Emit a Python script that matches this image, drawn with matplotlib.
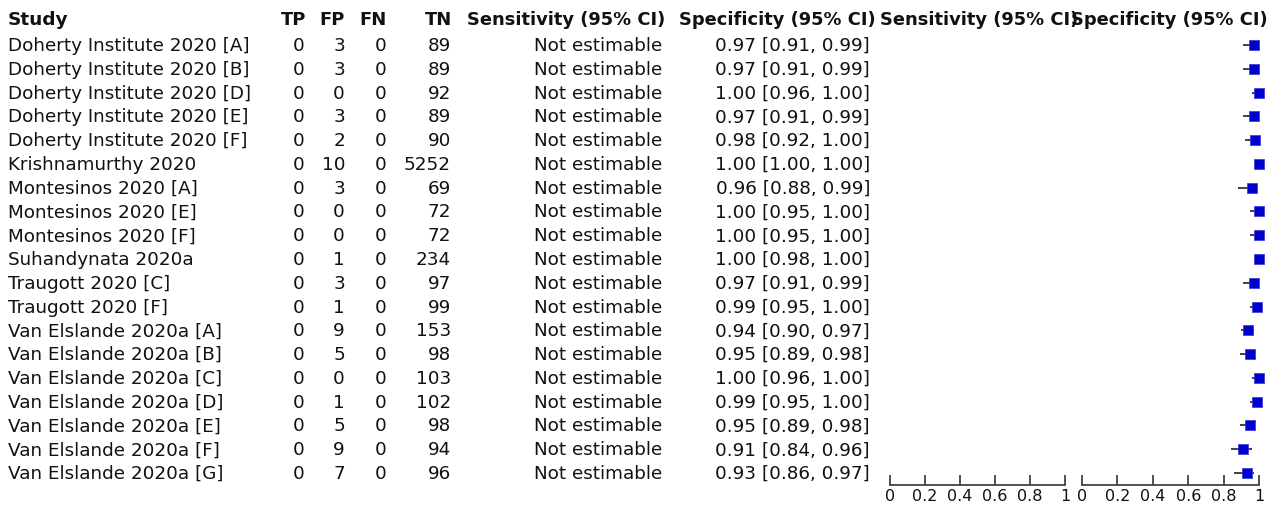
import matplotlib
matplotlib.use("Agg")
import matplotlib.pyplot as plt

plt.rcParams["font.family"] = ["DejaVu Sans"]

studies = ["Doherty Institute 2020 [A]", "Doherty Institute 2020 [B]", "Doherty Institute 2020 [D]",
           "Doherty Institute 2020 [E]", "Doherty Institute 2020 [F]", "Krishnamurthy 2020",
           "Montesinos 2020 [A]", "Montesinos 2020 [E]", "Montesinos 2020 [F]", "Suhandynata 2020a",
           "Traugott 2020 [C]", "Traugott 2020 [F]", "Van Elslande 2020a [A]", "Van Elslande 2020a [B]",
           "Van Elslande 2020a [C]", "Van Elslande 2020a [D]", "Van Elslande 2020a [E]",
           "Van Elslande 2020a [F]", "Van Elslande 2020a [G]"]
tp = [0] * 19
fp = [3, 3, 0, 3, 2, 10, 3, 0, 0, 1, 3, 1, 9, 5, 0, 1, 5, 9, 7]
fn = [0] * 19
tn = [89, 89, 92, 89, 90, 5252, 69, 72, 72, 234, 97, 99, 153, 98, 103, 102, 98, 94, 96]
spec = [0.97, 0.97, 1.00, 0.97, 0.98, 1.00, 0.96, 1.00, 1.00, 1.00, 0.97, 0.99, 0.94, 0.95, 1.00, 0.99, 0.95, 0.91, 0.93]
spec_lo = [0.91, 0.91, 0.96, 0.91, 0.92, 1.00, 0.88, 0.95, 0.95, 0.98, 0.91, 0.95, 0.90, 0.89, 0.96, 0.95, 0.89, 0.84, 0.86]
spec_hi = [0.99, 0.99, 1.00, 0.99, 1.00, 1.00, 0.99, 1.00, 1.00, 1.00, 0.99, 1.00, 0.97, 0.98, 1.00, 1.00, 0.98, 0.96, 0.97]
sens_text = ["Not estimable"] * 19
headers = ["Study", "TP", "FP", "FN", "TN", "Sensitivity (95% CI)", "Specificity (95% CI)",
           "Sensitivity (95% CI)", "Specificity (95% CI)"]
tick_vals = [0, 0.2, 0.4, 0.6, 0.8, 1]
tick_labels = ["0", "0.2", "0.4", "0.6", "0.8", "1"]

W, H = 1280, 506
fig = plt.figure(figsize=(W / 100, H / 100), dpi=100)
bg = fig.add_axes([0, 0, 1, 1])
bg.set_xlim(0, W)
bg.set_ylim(H, 0)
bg.axis("off")

FS = 13.2
FSB = 12.9
row0, dy = 46, 23.78
hy = 20
txt = "#111111"

# headers
bg.text(8, hy, headers[0], ha="left", va="center", fontsize=13.3, fontweight="bold", color=txt)
for x, h in zip([306, 345, 387, 452], headers[1:5]):
    bg.text(x, hy, h, ha="right", va="center", fontsize=FSB, fontweight="bold", color=txt)
bg.text(467, hy, headers[5], ha="left", va="center", fontsize=FSB, fontweight="bold", color=txt)
bg.text(679, hy, headers[6], ha="left", va="center", fontsize=FSB, fontweight="bold", color=txt)
bg.text(880, hy, headers[7], ha="left", va="center", fontsize=FSB, fontweight="bold", color=txt)
bg.text(1268, hy, headers[8], ha="right", va="center", fontsize=FSB, fontweight="bold", color=txt)

for i, s in enumerate(studies):
    y = row0 + i * dy
    bg.text(8, y, s, ha="left", va="center", fontsize=FS, color=txt)
    bg.text(305, y, str(tp[i]), ha="right", va="center", fontsize=FS, color=txt)
    bg.text(345, y, str(fp[i]), ha="right", va="center", fontsize=FS, color=txt)
    bg.text(387, y, str(fn[i]), ha="right", va="center", fontsize=FS, color=txt)
    bg.text(451, y, str(tn[i]), ha="right", va="center", fontsize=FS, color=txt)
    bg.text(662, y, sens_text[i], ha="right", va="center", fontsize=FS, color=txt)
    bg.text(870, y, f"{spec[i]:.2f} [{spec_lo[i]:.2f}, {spec_hi[i]:.2f}]", ha="right", va="center",
            fontsize=FS, color=txt)

# forest axes
ax_bottom_px = 486
top_px = 30
n = len(studies)
ylo = (ax_bottom_px - row0) / dy
yhi = (top_px - row0) / dy


def make_ax(x0, x1):
    ax = fig.add_axes([x0 / W, 1 - ax_bottom_px / H, (x1 - x0) / W, (ax_bottom_px - top_px) / H])
    ax.set_xlim(0, 1)
    ax.set_ylim(ylo, yhi)
    ax.patch.set_alpha(0)
    for sp in ["top", "right", "left"]:
        ax.spines[sp].set_visible(False)
    ax.spines["bottom"].set_color("#333333")
    ax.spines["bottom"].set_linewidth(1.2)
    ax.set_yticks([])
    ax.set_xticks(tick_vals)
    ax.set_xticklabels(tick_labels)
    ax.tick_params(axis="x", direction="in", length=7, width=1.2, color="#333333",
                   labelsize=11.5, pad=2, labelcolor=txt)
    return ax


ax_sens = make_ax(890, 1065)
ax_spec = make_ax(1082, 1259)

rows = list(range(n))
ax_spec.hlines(rows, spec_lo, spec_hi, color="#222222", linewidth=1.2, zorder=2)
ax_spec.scatter(spec, rows, marker="s", s=52, color="#0000CC", edgecolor="#3333dd", linewidth=0.5,
                zorder=3, clip_on=False)

fig.savefig("out.png", dpi=100)
